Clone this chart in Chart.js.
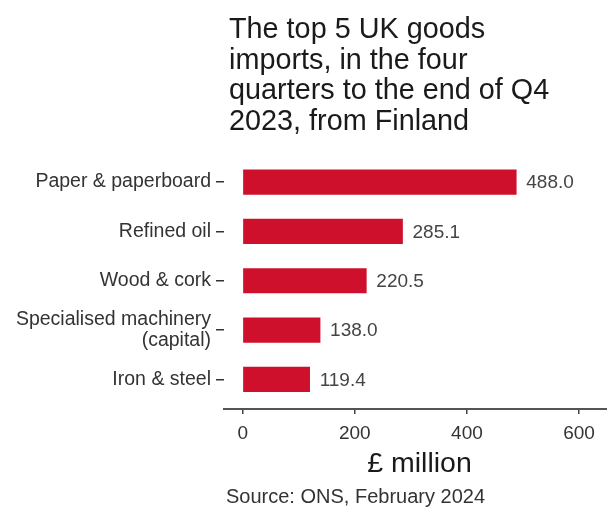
<!DOCTYPE html>
<html><head><meta charset="utf-8">
<script src="https://cdn.jsdelivr.net/npm/chart.js@4/dist/chart.umd.min.js"></script>
<style>html,body{margin:0;padding:0;background:#fff;overflow:hidden}canvas{display:block}</style>
</head><body>
<canvas id="c" width="607" height="507"></canvas>
<script>
const categories = ['Paper & paperboard', 'Refined oil', 'Wood & cork', ['Specialised machinery', '(capital)'], 'Iron & steel'];
const values = [488.0, 285.1, 220.5, 138.0, 119.4];
const valueLabels = ['488.0', '285.1', '220.5', '138.0', '119.4'];
const xTicks = [0, 200, 400, 600];
const titleLines = ['The top 5 UK goods', 'imports, in the four', 'quarters to the end of Q4', '2023, from Finland'];
const xAxisTitle = '£ million';
const sourceText = 'Source: ONS, February 2024';

const FONT = "'Liberation Sans', Arial, sans-serif";

const textPlugin = {
  id: 'texts',
  afterDraw(chart) {
    const ctx = chart.ctx;
    const area = chart.chartArea;
    ctx.save();
    ctx.textBaseline = 'alphabetic';
    ctx.textAlign = 'left';
    ctx.fillStyle = '#1a1a1a';
    ctx.font = '28.8px ' + FONT;
    titleLines.forEach((t, i) => ctx.fillText(t, area.left + 5, 38 + i * 30.7));
    ctx.textAlign = 'center';
    ctx.font = '28.5px ' + FONT;
    ctx.fillText(xAxisTitle, (area.left + area.right) / 2 + 4, 472);
    ctx.textAlign = 'left';
    ctx.fillStyle = '#333';
    ctx.font = '20px ' + FONT;
    ctx.fillText(sourceText, area.left + 2, 503);
    ctx.restore();
  },
  afterDatasetsDraw(chart) {
    const ctx = chart.ctx;
    const meta = chart.getDatasetMeta(0);
    ctx.save();
    ctx.font = '19px ' + FONT;
    ctx.fillStyle = '#444';
    ctx.textAlign = 'left';
    ctx.textBaseline = 'middle';
    meta.data.forEach((bar, i) => {
      ctx.fillText(valueLabels[i], bar.x + 10, bar.y + 1);
    });
    ctx.restore();
  }
};

new Chart(document.getElementById('c'), {
  type: 'bar',
  data: {
    datasets: [{
      data: values.map((v, i) => ({ x: v, y: i })),
      backgroundColor: '#cf102d',
      borderWidth: 0,
      barThickness: 24.5
    }]
  },
  options: {
    indexAxis: 'y',
    responsive: false,
    animation: false,
    devicePixelRatio: 1,
    layout: { padding: { top: 152.5, left: 0, right: 0, bottom: 0 } },
    plugins: { legend: { display: false }, tooltip: { enabled: false }, title: { display: false } },
    scales: {
      x: {
        type: 'linear',
        min: -33.4,
        max: 649.9,
        afterBuildTicks: (s) => { s.ticks = xTicks.map(v => ({ value: v })); },
        afterFit: (s) => { s.height = 98; },
        grid: { drawOnChartArea: false, drawTicks: true, tickLength: 5, color: '#444', lineWidth: 1.5 },
        border: { display: true, color: '#555', width: 2 },
        ticks: { font: { size: 19, family: FONT }, color: '#333', padding: 8, maxRotation: 0 }
      },
      y: {
        type: 'linear',
        reverse: true,
        offset: false,
        min: -0.6,
        max: 4.6,
        afterBuildTicks: (s) => { s.ticks = categories.map((_, i) => ({ value: i })); },
        afterFit: (s) => { s.width = 224; },
        grid: { offset: false, drawOnChartArea: false, drawTicks: true, tickLength: 8, color: '#333', lineWidth: 1.5 },
        border: { display: false },
        ticks: {
          font: { size: 19.5, family: FONT, lineHeight: 1.08 },
          color: '#333',
          padding: 5,
          callback: (v) => categories[v]
        }
      }
    }
  },
  plugins: [textPlugin]
});
</script>
</body></html>
